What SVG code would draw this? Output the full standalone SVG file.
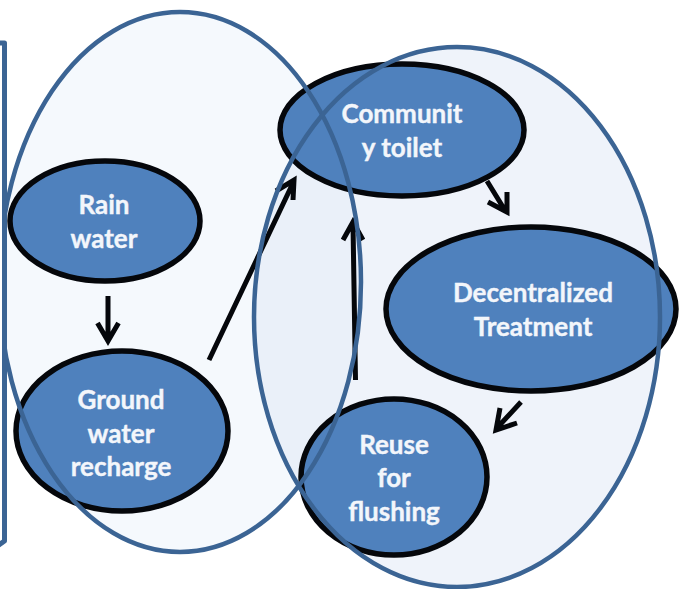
<svg xmlns="http://www.w3.org/2000/svg" width="680" height="589" viewBox="0 0 680 589">
<style>
.node{fill:#4f81bd;stroke:#05070b;stroke-width:5.500}
.label{font-family:Lato,"Liberation Sans",sans-serif;font-weight:700;font-size:26px;fill:#f3f6fb;stroke:#f3f6fb;stroke-width:0.400;text-anchor:middle}
.ring{fill:none;stroke:#3b6494;stroke-width:4.500}
.conn{fill:none;stroke:#05070b;stroke-width:5}
</style>
<rect width="680" height="589" fill="#fff"/>
<g id="group-fills">
<ellipse cx="180" cy="282" rx="181" ry="270" fill="#f5f9fd"/>
<ellipse cx="457" cy="317" rx="203" ry="270" fill="#dfe7f5" fill-opacity="0.5"/>
</g>
<g id="connectors">
<path class="conn" d="M108 296V340M97.500 323L108 341L118.500 323"/>
<path class="conn" d="M209 360L293 183M276 191L294 180L293 200"/>
<path class="conn" d="M355.500 380L353 224M343 240L353 222L363 240"/>
<path class="conn" d="M487 181L506 212M488 202L507 212L507 192"/>
<path class="conn" d="M521 402L497 428M500 408L496 430L517 423"/>
</g>
<g id="rain-water"><ellipse class="node" cx="105" cy="221" rx="95" ry="60"/><text class="label" x="104" y="213.500">Rain</text><text class="label" x="104" y="247.500">water</text></g>
<g id="ground-water-recharge"><ellipse class="node" cx="122" cy="431" rx="106" ry="80"/><text class="label" x="121" y="408.500">Ground</text><text class="label" x="121" y="442.500">water</text><text class="label" x="121" y="475.500">recharge</text></g>
<g id="community-toilet"><ellipse class="node" cx="402" cy="130" rx="122" ry="66"/><text class="label" x="402" y="122.500">Communit</text><text class="label" x="402" y="156.500">y toilet</text></g>
<g id="decentralized-treatment"><ellipse class="node" cx="531" cy="309" rx="145" ry="82"/><text class="label" x="533" y="301.500">Decentralized</text><text class="label" x="533" y="335.500">Treatment</text></g>
<g id="reuse-for-flushing"><ellipse class="node" cx="394" cy="477" rx="93" ry="78"/><text class="label" x="394" y="453.500">Reuse</text><text class="label" x="394" y="486.500">for</text><text class="label" x="394" y="520.500">flushing</text></g>
<g id="group-outlines">
<ellipse class="ring" cx="180" cy="282" rx="181" ry="270"/>
<ellipse class="ring" cx="457" cy="317" rx="203" ry="270"/>
</g>
<path id="side-panel" d="M-10 43H4.500V541L-10 551Z" fill="#fff" stroke="#3b6494" stroke-width="5" stroke-linejoin="round"/>
</svg>
